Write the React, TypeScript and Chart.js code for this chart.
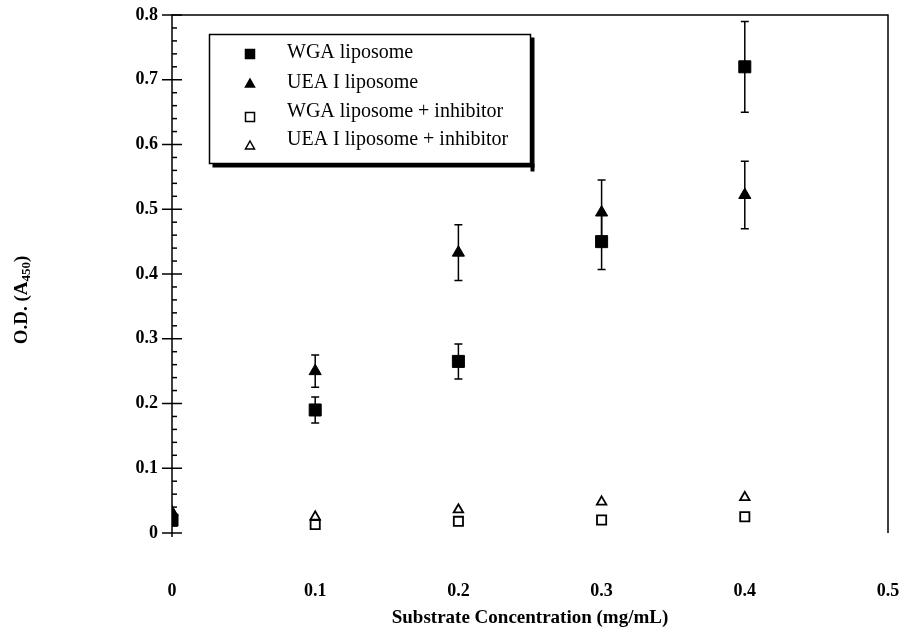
import React, { useEffect, useRef } from 'react';
import { Chart, registerables } from 'chart.js';

Chart.register(...registerables);

const FONT = '"Liberation Serif", "Times New Roman", serif';

// ---- data ----
const xValues = [0, 0.1, 0.2, 0.3, 0.4];
const wgaMean = [0.02, 0.19, 0.265, 0.45, 0.72];
const wgaErr = [0, 0.02, 0.027, 0.043, 0.07];
const ueaMean = [0.032, 0.25, 0.433, 0.495, 0.522];
const ueaErr = [0, 0.025, 0.043, 0.05, 0.052];
const wgaInhMean = [0.018, 0.013, 0.018, 0.02, 0.025];
const ueaInhMean = [0.03, 0.025, 0.036, 0.048, 0.055];
const seriesLabels = ['WGA liposome', 'UEA I liposome', 'WGA liposome + inhibitor', 'UEA I liposome + inhibitor'];
const xTitle = 'Substrate Concentration (mg/mL)';
const yTitleMain = 'O.D. (A';
const yTitleSub = '450';
const yTitleEnd = ')';

const fmt = (v: number) => (Math.abs(v) < 1e-9 ? '0' : Number(v).toFixed(1));

const errorBars = {
  id: 'errorBars',
  beforeDatasetsDraw(chart: any) {
    const { ctx } = chart;
    const ys = chart.scales.y;
    ctx.save();
    ctx.strokeStyle = '#000';
    ctx.lineWidth = 1.5;
    chart.data.datasets.forEach((ds: any, di: number) => {
      if (!ds.errors) return;
      const meta = chart.getDatasetMeta(di);
      meta.data.forEach((pt: any, i: number) => {
        const e = ds.errors[i];
        if (!e) return;
        const v = ds.data[i].y;
        const top = ys.getPixelForValue(v + e);
        const bot = ys.getPixelForValue(v - e);
        const x = pt.x;
        ctx.beginPath();
        ctx.moveTo(x, top);
        ctx.lineTo(x, bot);
        ctx.moveTo(x - 4, top);
        ctx.lineTo(x + 4, top);
        ctx.moveTo(x - 4, bot);
        ctx.lineTo(x + 4, bot);
        ctx.stroke();
      });
    });
    ctx.restore();
  },
};

const frame = {
  id: 'frame',
  afterDraw(chart: any) {
    const { ctx, chartArea } = chart;
    const ys = chart.scales.y;
    const { left, right, top, bottom } = chartArea;
    ctx.save();
    ctx.strokeStyle = '#000';
    ctx.lineWidth = 1.5;
    ctx.beginPath();
    ctx.moveTo(left, bottom + 4);
    ctx.lineTo(left, top);
    ctx.lineTo(right, top);
    ctx.lineTo(right, bottom);
    ctx.stroke();
    ctx.lineWidth = 1.5;
    for (let k = 0; k <= 40; k++) {
      const v = k * 0.02;
      const y = ys.getPixelForValue(v);
      ctx.beginPath();
      if (k % 5 === 0) {
        ctx.moveTo(left - 10, y);
        ctx.lineTo(left + 10, y);
      } else {
        ctx.moveTo(left, y);
        ctx.lineTo(left + 5, y);
      }
      ctx.stroke();
    }
    ctx.fillStyle = '#000';
    ctx.textBaseline = 'middle';
    ctx.textAlign = 'left';
    const mainFont = `bold 19px ${FONT}`;
    const subFont = `bold 13px ${FONT}`;
    ctx.font = mainFont;
    const w1 = ctx.measureText(yTitleMain).width;
    const w3 = ctx.measureText(yTitleEnd).width;
    ctx.font = subFont;
    const w2 = ctx.measureText(yTitleSub).width;
    const total = w1 + w2 + w3;
    ctx.translate(22, (top + bottom) / 2 + 26);
    ctx.rotate(-Math.PI / 2);
    const x0 = -total / 2;
    ctx.font = mainFont;
    ctx.fillText(yTitleMain, x0, 0);
    ctx.font = subFont;
    ctx.fillText(yTitleSub, x0 + w1, 5);
    ctx.font = mainFont;
    ctx.fillText(yTitleEnd, x0 + w1 + w2, 0);
    ctx.restore();
  },
};

const legendBox = {
  id: 'legendBox',
  afterDraw(chart: any) {
    const { ctx } = chart;
    const bx = 209.5, by = 34.5, bw = 321, bh = 129;
    ctx.save();
    ctx.fillStyle = '#fff';
    ctx.fillRect(bx, by, bw, bh);
    ctx.strokeStyle = '#000';
    ctx.lineWidth = 1.5;
    ctx.strokeRect(bx, by, bw, bh);
    ctx.fillStyle = '#000';
    ctx.fillRect(bx + 3, by + bh, bw + 1, 4);
    ctx.fillRect(bx + bw, by + 3, 4, bh + 5);
    const textY = [53, 83, 112, 140];
    const markY = [54, 84, 117, 146];
    const mx = 250;
    ctx.font = `20px ${FONT}`;
    ctx.textBaseline = 'middle';
    ctx.textAlign = 'left';
    chart.data.datasets.forEach((ds: any, i: number) => {
      const y = markY[i];
      ctx.lineWidth = 1.5;
      ctx.strokeStyle = '#000';
      ctx.fillStyle = i < 2 ? '#000' : '#fff';
      ctx.beginPath();
      if (i % 2 === 0) {
        ctx.rect(mx - 4.5, y - 4.5, 9, 9);
      } else {
        ctx.moveTo(mx, y - 5);
        ctx.lineTo(mx + 4.5, y + 3);
        ctx.lineTo(mx - 4.5, y + 3);
        ctx.closePath();
      }
      ctx.fill();
      ctx.stroke();
      ctx.fillStyle = '#000';
      ctx.fillText(ds.label, 287, textY[i]);
    });
    ctx.restore();
  },
};

export default function App() {
  const ref = useRef<HTMLCanvasElement>(null);
  useEffect(() => {
    document.body.style.margin = '0';
    const canvas = ref.current;
    if (!canvas) return;
    const mk = (vals: number[]) => xValues.map((x, i) => ({ x, y: vals[i] }));
    const chart = new Chart(canvas, {
      type: 'scatter',
      data: {
        datasets: [
          { label: seriesLabels[0], data: mk(wgaMean), errors: wgaErr, pointStyle: 'rect', pointRadius: 8.5, backgroundColor: '#000', borderColor: '#000', borderWidth: 1 } as any,
          { label: seriesLabels[1], data: mk(ueaMean), errors: ueaErr, pointStyle: 'triangle', pointRadius: 7, backgroundColor: '#000', borderColor: '#000', borderWidth: 1 } as any,
          { label: seriesLabels[2], data: mk(wgaInhMean), pointStyle: 'rect', pointRadius: 6.5, backgroundColor: '#fff', borderColor: '#000', borderWidth: 1.8 } as any,
          { label: seriesLabels[3], data: mk(ueaInhMean), pointStyle: 'triangle', pointRadius: 5.5, backgroundColor: '#fff', borderColor: '#000', borderWidth: 1.8 } as any,
        ],
      },
      options: {
        animation: false,
        responsive: true,
        maintainAspectRatio: false,
        layout: { padding: { top: 15, right: 29, left: 0, bottom: 0 } },
        plugins: {
          legend: { display: false },
          tooltip: { enabled: false },
          title: { display: false },
        },
        scales: {
          x: {
            type: 'linear',
            min: 0,
            max: 0.5,
            grid: { display: false, drawTicks: false },
            border: { display: false },
            ticks: {
              stepSize: 0.1,
              color: '#000',
              padding: 48,
              font: { family: FONT, size: 18, weight: 'bold' },
              callback: (v: any) => fmt(v),
            },
            title: {
              display: true,
              text: xTitle,
              color: '#000',
              font: { family: FONT, size: 19, weight: 'bold' },
              padding: { top: 12, bottom: 0 },
            },
            afterFit: (s: any) => { s.height = 96; s.paddingLeft = 0; s.paddingRight = 0; },
          },
          y: {
            type: 'linear',
            min: 0,
            max: 0.8,
            grid: { display: false, drawTicks: false },
            border: { display: false },
            ticks: {
              stepSize: 0.1,
              color: '#000',
              padding: 14,
              font: { family: FONT, size: 18, weight: 'bold' },
              callback: (v: any) => fmt(v),
            },
            afterFit: (s: any) => { s.width = 172; s.paddingTop = 0; s.paddingBottom = 0; },
          },
        },
      },
      plugins: [errorBars, frame, legendBox],
    } as any);
    return () => chart.destroy();
  }, []);
  return (
    <div style={{ width: 917, height: 629, position: 'relative' }}>
      <canvas ref={ref} />
    </div>
  );
}
